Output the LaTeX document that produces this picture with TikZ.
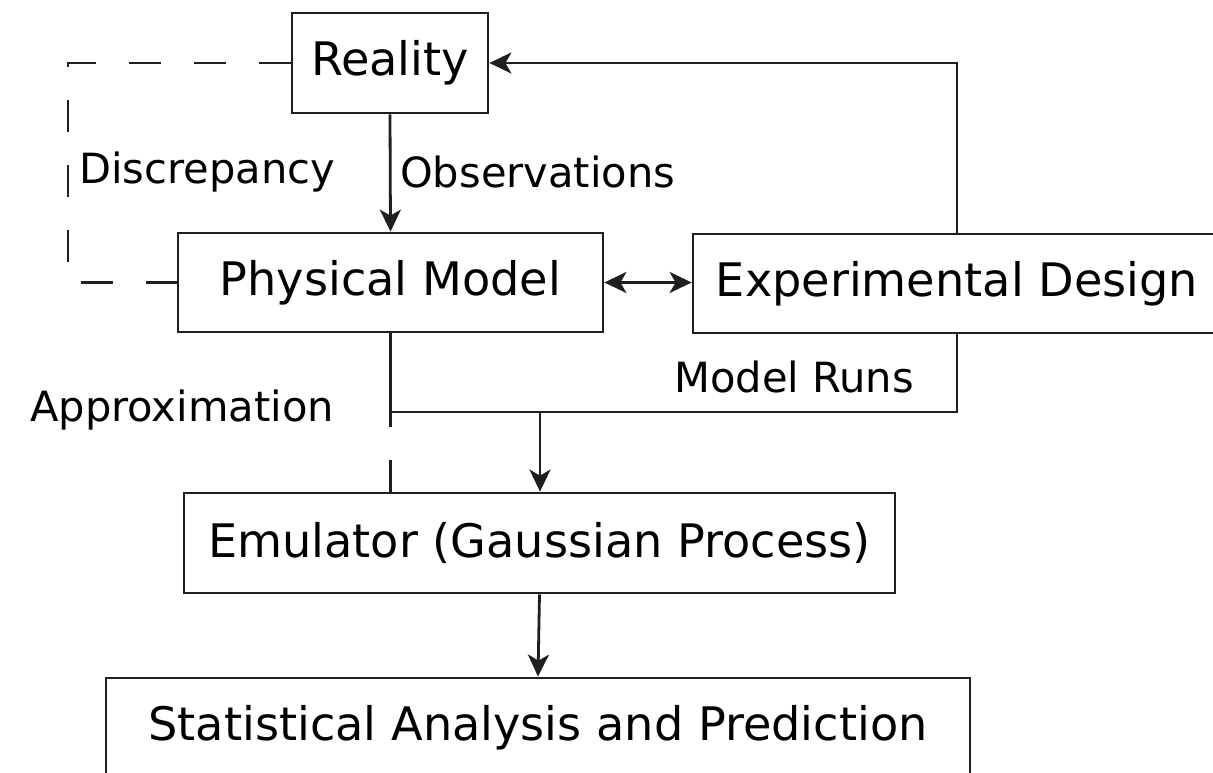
\documentclass[tikz,border=0pt]{standalone}
\usepackage{fontspec}
\setmainfont{DejaVu Sans}
\usetikzlibrary{arrows.meta}
\begin{document}
\begin{tikzpicture}[x=1pt,y=-1pt,
  box/.style={draw=black!88,line width=2.8pt,rectangle,inner sep=0pt,align=center,font=\fontsize{46.2}{50}\selectfont},
  lbl/.style={inner sep=0pt,font=\fontsize{41.6}{48}\selectfont},
  conn/.style={draw=black!88,line width=2.8pt},
  arr/.style={conn,-{Stealth[length=22pt,width=21pt,inset=6pt]}},
  dsh/.style={conn,dash pattern=on 32pt off 33pt}]
\useasboundingbox (0,0) rectangle (1213,772);
\clip (0,0) rectangle (1213,772);
\fill[white] (0,0) rectangle (1213,772);
\node[box,minimum width=196pt,minimum height=100pt] (R) at (390,63) {Reality};
\node[box,minimum width=425pt,minimum height=99pt] (PM) at (390.5,282.5) {Physical Model};
\node[box,minimum width=528pt,minimum height=99pt] (ED) at (957,283.5) {Experimental Design};
\node[box,minimum width=711pt,minimum height=100pt] (EM) at (539.5,543) {Emulator (Gaussian Process)};
\node[box,minimum width=864pt,minimum height=100pt] (SA) at (538,728) {Statistical Analysis and Prediction};
\coordinate (dc) at (68,63);
\coordinate (j) at (390,412);
\coordinate (k) at (540,412);
\draw[dsh] (R.west) -- (dc) |- (PM.west);
\draw[arr] (R.south) -- (PM.north);
\draw[conn,{Stealth[length=22pt,width=21pt,inset=6pt]}-{Stealth[length=22pt,width=21pt,inset=6pt]}] (PM.east) -- (ED.west |- PM.east);
\draw[arr] (ED.north) |- (R.east);
\draw[conn] (PM.south) |- (ED.south |- j) -- (ED.south);
\draw[dsh] (EM.north -| PM.south) -- (PM.south);
\draw[arr] (k) -- (k |- EM.north);
\draw[arr] (EM.south) -- (SA.north);
\node[lbl,anchor=west] (obs) at (400,172) {Observations};
\node[lbl,anchor=west] (dis) at (79,172) {Discrepancy};
\node[lbl,anchor=east] (app) at (334,410) {Approximation};
\node[lbl,anchor=east] (mr) at (914,377) {Model Runs};
\end{tikzpicture}
\end{document}
